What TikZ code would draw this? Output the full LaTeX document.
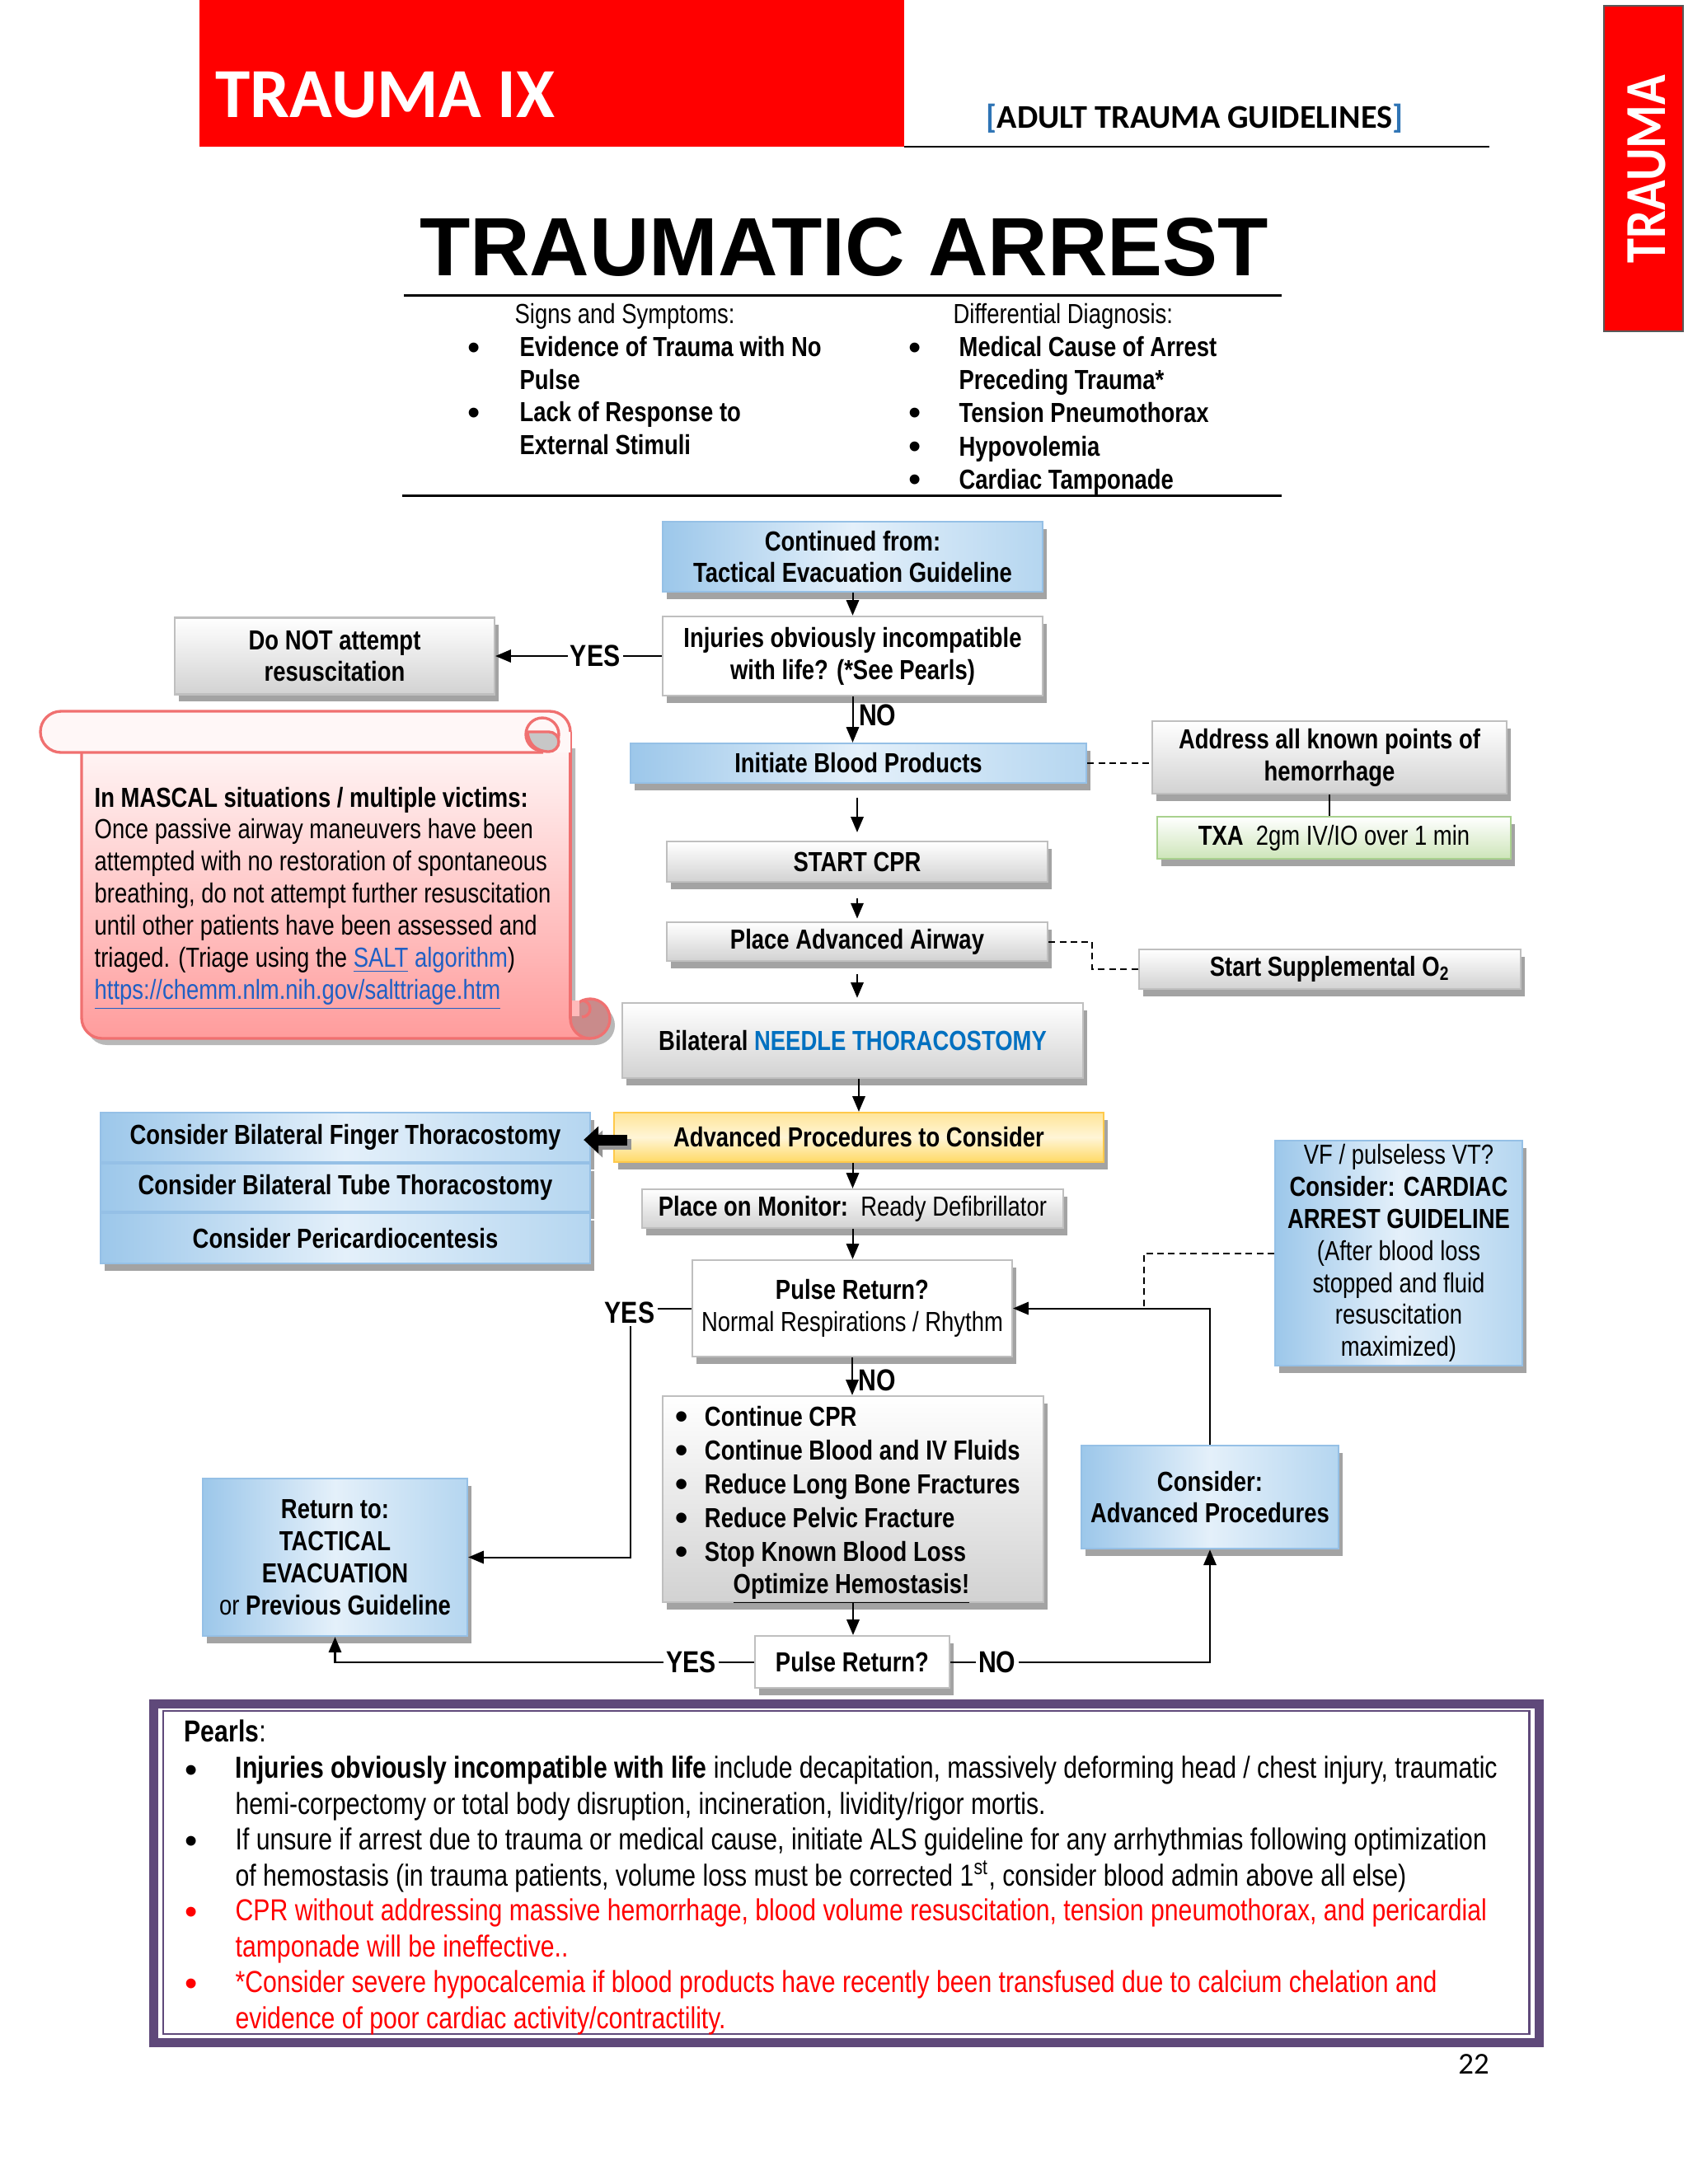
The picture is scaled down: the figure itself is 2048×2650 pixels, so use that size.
\documentclass[tikz,border=0pt]{standalone}
\usepackage{fontspec}
\setmainfont{Liberation Sans}[FakeStretch=0.82]
\newfontfamily\arialfont{Liberation Sans}
\newfontfamily\calfont{Carlito}
\newfontfamily\tabfont{Carlito}[FakeStretch=0.86]
\usetikzlibrary{arrows.meta,shadows}

\definecolor{hdred}{HTML}{FF0000}
\definecolor{brkblue}{HTML}{2E74B5}
\definecolor{gline}{HTML}{BFBFBF}
\definecolor{glow}{HTML}{D2D2D2}
\definecolor{bline}{HTML}{95C0E6}
\definecolor{bdk}{HTML}{9CC7EA}
\definecolor{blt}{HTML}{E4F0FA}
\definecolor{bmd}{HTML}{B5D6F0}
\definecolor{yline}{HTML}{FFC94A}
\definecolor{ytop}{HTML}{FFE599}
\definecolor{ymid}{HTML}{FFF5D6}
\definecolor{ybot}{HTML}{FFD966}
\definecolor{gnline}{HTML}{A9D18E}
\definecolor{gnbot}{HTML}{CDE5B9}
\definecolor{needleblue}{HTML}{0070C0}
\definecolor{linkblue}{HTML}{1F5FC4}
\definecolor{scrollred}{HTML}{F07070}
\definecolor{scrolltop}{HTML}{FFF7F7}
\definecolor{scrollbot}{HTML}{FF9C9C}
\definecolor{rolldk}{HTML}{C98B8B}
\definecolor{pearlpur}{HTML}{5F497A}

\newcommand\bigdot{\raisebox{-1pt}{\arialfont\fontsize{13}{10}\selectfont\textbullet}}

\tikzset{
  flowbox/.style={draw=#1, line width=0.7pt, align=center, inner sep=0pt,
    font=\fontsize{10}{11.6}\selectfont\bfseries,
    drop shadow={shadow xshift=1.4pt, shadow yshift=-2.6pt, fill=black!36, opacity=1}},
  grayb/.style={flowbox=gline, top color=white, bottom color=glow},
  whiteb/.style={flowbox=gline, fill=white},
  blueb/.style={flowbox=bline, left color=bdk, right color=bmd, middle color=blt},
  yellowb/.style={flowbox=yline, top color=ytop, bottom color=ybot, middle color=ymid},
  greenb/.style={flowbox=gnline, top color=white, bottom color=gnbot},
  arr/.style={line width=0.6pt, -{Triangle[length=5.6pt,width=4.6pt]}},
  fatarr/.style={line width=3.9pt, -{Triangle[length=5.4pt,width=9.6pt]}},
  dashln/.style={line width=0.6pt, dash pattern=on 2.4pt off 1.6pt},
  lbl/.style={font=\fontsize{11}{11}\selectfont\bfseries, fill=white, inner sep=1pt},
  nolbl/.style={font=\fontsize{11}{11}\selectfont\bfseries, anchor=west, inner sep=2pt},
  bul/.style={anchor=base, inner sep=0pt},
  item/.style={anchor=base west, align=left, inner sep=0pt, font=\fontsize{10}{11.7}\selectfont\bfseries},
  pearl/.style={anchor=base west, align=left, inner sep=0pt, font=\fontsize{11}{12.9}\selectfont},
  scrolline/.style={draw=scrollred, line width=1pt}
}

\begin{document}
\begin{tikzpicture}[x=0.29883pt, y=-0.29883pt]
  \useasboundingbox (0,0) rectangle (2048,2650);
  \fill[white] (0,0) rectangle (2048,2650);

  % page header
  \fill[hdred] (242,0) rectangle (1097,178);
  \draw[line width=0.7pt] (1097,178) -- (1807,178);
  \node[anchor=base west, inner sep=0pt, text=white, font=\calfont\bfseries\fontsize{25.5}{25.5}\selectfont] (chap) at (261,142) {TRAUMA IX};
  \node[anchor=base west, inner sep=0pt, font=\calfont\bfseries\fontsize{12}{12}\selectfont] (guide) at (1196,155) {\textcolor{brkblue}{[}ADULT TRAUMA GUIDELINES\textcolor{brkblue}{]}};
  \draw[fill=hdred, draw=black!65, line width=0.8pt] (1946,7) rectangle (2042,402);
  \node[rotate=90, text=white, font=\tabfont\bfseries\fontsize{21}{21}\selectfont] (tab) at (1998,205) {TRAUMA};

  % title and lists (multi-line texts sit on their last baseline)
  \node[anchor=base, inner sep=0pt, font=\arialfont\bfseries\fontsize{30}{30}\selectfont] (title) at (1024,334) {TRAUMATIC ARREST};
  \draw[line width=0.9pt] (490,358) -- (1555,358);
  \draw[line width=0.9pt] (488,601) -- (1555,601);

  \node[item, font=\fontsize{10}{11.7}\selectfont] (signhd) at (624,392) {Signs and Symptoms:};
  \node[bul] at (575,433) {\bigdot};
  \node[bul] at (575,512) {\bigdot};
  \node[item] (sign1) at (630,472) {Evidence of Trauma with No\\Pulse};
  \node[item] (sign2) at (630,551) {Lack of Response to\\External Stimuli};

  \node[item, font=\fontsize{10}{11.7}\selectfont] (diffhd) at (1156,392) {Differential Diagnosis:};
  \foreach \yy in {433,512,553,593}
    \node[bul] at (1110,\yy) {\bigdot};
  \node[item] (diff1) at (1163,472) {Medical Cause of Arrest\\Preceding Trauma*};
  \node[item] (diff2) at (1163,512) {Tension Pneumothorax};
  \node[item] (diff3) at (1163,553) {Hypovolemia};
  \node[item] (diff4) at (1163,593) {Cardiac Tamponade};

  % MASCAL scroll
  \begin{scope}[shift={(6,8)}]
    \fill[black!28] (99,900) -- (99,1235) arc[start angle=180, end angle=90, radius=25] -- (716,1260) -- (716,1236) -- (692,1236) -- (692,900) -- cycle;
    \fill[black!28] (716,1236) circle[radius=24];
  \end{scope}
  \fill[top color=scrolltop, bottom color=scrollbot] (99,900) -- (99,1235) arc[start angle=180, end angle=90, radius=25] -- (716,1260) -- (716,1236) -- (692,1236) -- (692,900) -- cycle;
  \draw[scrolline] (99,913) -- (99,1235) arc[start angle=180, end angle=90, radius=25] -- (716,1260);
  \draw[scrolline] (692,888) -- (692,1236);
  \fill[scrolltop] (74,863) -- (667,863) arc[start angle=270, end angle=360, radius=25] -- (692,913) -- (74,913) arc[start angle=90, end angle=270, radius=25] -- cycle;
  \draw[scrolline] (659,913) -- (74,913) arc[start angle=90, end angle=270, radius=25] -- (667,863) arc[start angle=270, end angle=360, radius=25];
  \filldraw[scrolline, fill=scrolltop] (658,891) circle[radius=20];
  \filldraw[scrolline, fill=black!22] (640,888) -- (666,888) arc[start angle=270, end angle=450, radius=12] .. controls (650,912) and (641,902) .. (640,888) -- cycle;
  \filldraw[scrolline, fill=rolldk] (716,1236) circle[radius=24];
  \fill[scrollbot!70!white] (694,1214) rectangle (703,1233);
  \draw[scrolline] (706,1214) arc[start angle=270, end angle=450, radius=10];
  \node[anchor=base west, align=left, inner sep=0pt, font=\fontsize{10}{11.6}\selectfont] (mascal) at (114,1212)
    {\textbf{In MASCAL situations / multiple victims:}\\
     Once passive airway maneuvers have been\\
     attempted with no restoration of spontaneous\\
     breathing, do not attempt further resuscitation\\
     until other patients have been assessed and\\
     triaged. (Triage using the \textcolor{linkblue}{\underline{SALT} algorithm})\\
     \textcolor{linkblue}{\underline{https://chemm.nlm.nih.gov/salttriage.htm}}};

  % flowchart boxes
  \node[blueb, minimum width=137.8pt, minimum height=25.4pt] (cont) at (1034.5,675.5) {Continued from:\\Tactical Evacuation Guideline};
  \node[whiteb, minimum width=137.8pt, minimum height=28.7pt] (inj) at (1034.5,796) {Injuries obviously incompatible\\with life? (*See Pearls)};
  \node[grayb, minimum width=115.9pt, minimum height=27.8pt] (dnr) at (406,796) {Do NOT attempt\\resuscitation};
  \node[blueb, minimum width=165.3pt, minimum height=14.3pt] (blood) at (1041.5,926) {Initiate Blood Products};
  \node[grayb, minimum width=128.5pt, minimum height=26.3pt] (addr) at (1613,919) {Address all known points of\\hemorrhage};
  \node[greenb, minimum width=128.2pt, minimum height=15.2pt] (txa) at (1618.5,1016.5) {TXA\ \ \mdseries 2gm IV/IO over 1 min};
  \node[grayb, minimum width=138.1pt, minimum height=14.6pt] (cpr) at (1040,1045.5) {START CPR};
  \node[grayb, minimum width=138.1pt, minimum height=14pt] (airway) at (1040,1142.5) {Place Advanced Airway};
  \node[grayb, minimum width=138.4pt, minimum height=14.3pt] (oxy) at (1613.5,1176) {Start Supplemental O\textsubscript{2}};
  \node[grayb, minimum width=167pt, minimum height=27.2pt] (needle) at (1034.5,1262.5) {Bilateral \textcolor{needleblue}{NEEDLE THORACOSTOMY}};
  \node[yellowb, minimum width=177.5pt, minimum height=17.9pt] (adv) at (1042,1380) {Advanced Procedures to Consider};
  \node[blueb, minimum width=177.5pt, minimum height=17.9pt] (fing) at (419,1380) {Consider Bilateral Finger Thoracostomy};
  \node[blueb, minimum width=177.5pt, minimum height=17.3pt] (tube) at (419,1441) {Consider Bilateral Tube Thoracostomy};
  \node[blueb, minimum width=177.5pt, minimum height=18.2pt] (peri) at (419,1502.5) {Consider Pericardiocentesis};
  \node[grayb, minimum width=152.7pt, minimum height=14pt] (mon) at (1034.5,1466.5) {Place on Monitor:\ \ \mdseries Ready Defibrillator};
  \node[whiteb, minimum width=115.9pt, minimum height=35pt] (pulse) at (1034,1587.5) {Pulse Return?\\\mdseries Normal Respirations / Rhythm};
  \node[blueb, minimum width=89.6pt, minimum height=81.6pt] (vf) at (1697,1520.5)
    {\mdseries VF / pulseless VT?\\Consider: CARDIAC\\ARREST GUIDELINE\\\mdseries (After blood loss\\\mdseries stopped and fluid\\\mdseries resuscitation\\\mdseries maximized)};
  \node[blueb, minimum width=95.9pt, minimum height=57.1pt] (ret) at (406.5,1889.5) {Return to:\\TACTICAL\\EVACUATION\\{\mdseries or} Previous Guideline};
  \node[grayb, minimum width=138.1pt, minimum height=74.7pt] (keep) at (1035,1819) {};
  \node[anchor=base west, align=left, inner sep=0pt, font=\fontsize{10}{12.25}\selectfont\bfseries] (keeptxt) at (819,1894)
    {\bigdot\hspace{6pt}Continue CPR\\
     \bigdot\hspace{6pt}Continue Blood and IV Fluids\\
     \bigdot\hspace{6pt}Reduce Long Bone Fractures\\
     \bigdot\hspace{6pt}Reduce Pelvic Fracture\\
     \bigdot\hspace{6pt}Stop Known Blood Loss};
  \node[anchor=base, inner sep=0pt, font=\fontsize{10}{12}\selectfont\bfseries] (optim) at (1033,1933) {\underline{Optimize Hemostasis!}};
  \node[whiteb, minimum width=70.5pt, minimum height=18.8pt] (pulse2) at (1034,2016.5) {Pulse Return?};
  \node[blueb, minimum width=93.2pt, minimum height=37.4pt] (consid) at (1468,1816.5) {Consider:\\Advanced Procedures};

  % connectors
  \draw[arr] (cont) -- (inj);
  \draw[arr] (inj.west) -- node[lbl, pos=0.4] {YES} (dnr.east);
  \draw[arr] (inj.south) -- node[nolbl, pos=0.4] {NO} (inj.south |- blood.north);
  \draw[dashln] (blood.east) -- (blood.east -| addr.west);
  \draw[line width=0.6pt] (addr.south) -- (addr.south |- txa.north);
  \draw[arr, shorten <=5pt, shorten >=3pt] (cpr.north |- blood.south) -- (cpr.north);
  \draw[arr, shorten <=5.5pt, shorten >=1pt] (cpr) -- (airway);
  \draw[arr, shorten <=4.5pt, shorten >=1.5pt] (airway.south) -- (airway.south |- needle.north);
  \draw[dashln] (airway.east) -- ++(53,0) |- (oxy.west);
  \draw[arr] (adv.north |- needle.south) -- (adv.north);
  \draw[fatarr, black!42] ([xshift=6.6pt, yshift=-2.4pt]adv.west) -- ([xshift=-1.2pt, yshift=-2.4pt]fing.east);
  \draw[fatarr] ([xshift=5.1pt, yshift=-0.9pt]adv.west) -- ([xshift=-2.7pt, yshift=-0.9pt]fing.east);
  \draw[arr] (mon.north |- adv.south) -- (mon.north);
  \draw[arr] (mon.south) -- (mon.south |- pulse.north);

  \coordinate (ycorner) at (765,1587.5);
  \draw[arr] (pulse.west) -- (ycorner) |- (ret.east);
  \node[lbl] (yes2) at (764,1593) {YES};
  \draw[arr] (pulse.south) -- node[nolbl, pos=0.6] {NO} (pulse.south |- keep.north);
  \coordinate (vfjoin) at (1388,1587.5);
  \draw[dashln] (vf.west) -| (vfjoin);
  \draw[arr] (consid.north) |- (pulse.east);
  \draw[arr] (keep.south) -- (keep.south |- pulse2.north);
  \draw[arr] (pulse2.west) -| node[lbl, pos=0.075] {YES} (ret.south);
  \draw[arr] (pulse2.east) -| node[lbl, pos=0.09] {NO} (consid.south);

  % pearls
  \draw[pearlpur, line width=3.3pt] (186.5,2067) rectangle (1867.5,2478);
  \draw[pearlpur, line width=0.8pt] (198,2076) rectangle (1855.5,2468);
  \node[pearl] (pearlhd) at (223,2113) {\textbf{Pearls}:};
  \node[bul] at (232,2159) {\bigdot};
  \node[bul] at (232,2245) {\bigdot};
  \node[bul, text=red] at (232,2331) {\bigdot};
  \node[bul, text=red] at (232,2418) {\bigdot};
  \node[pearl] (pearl1) at (285,2201) {\textbf{Injuries obviously incompatible with life} include decapitation, massively deforming head / chest injury, traumatic\\hemi-corpectomy or total body disruption, incineration, lividity/rigor mortis.};
  \node[pearl] (pearl2) at (285,2288) {If unsure if arrest due to trauma or medical cause, initiate ALS guideline for any arrhythmias following optimization\\of hemostasis (in trauma patients, volume loss must be corrected 1\textsuperscript{st}, consider blood admin above all else)};
  \node[pearl, text=red] (pearl3) at (285,2374) {CPR without addressing massive hemorrhage, blood volume resuscitation, tension pneumothorax, and pericardial\\tamponade will be ineffective..};
  \node[pearl, text=red] (pearl4) at (285,2461) {*Consider severe hypocalcemia if blood products have recently been transfused due to calcium chelation and\\evidence of poor cardiac activity/contractility.};

  \node[anchor=base, inner sep=0pt, font=\calfont\fontsize{11}{11}\selectfont] (pgnum) at (1788,2516) {22};
\end{tikzpicture}
\end{document}
